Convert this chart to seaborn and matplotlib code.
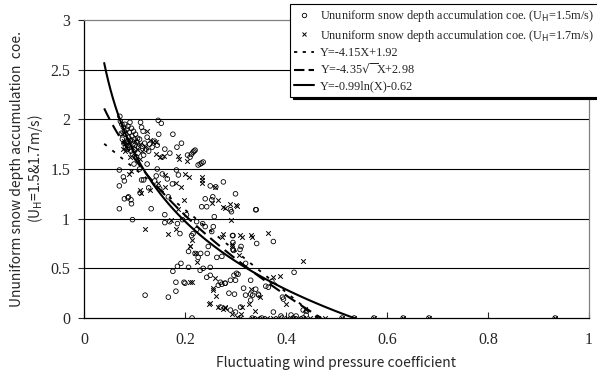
import numpy as np
import pandas as pd
import matplotlib
matplotlib.use("Agg")
import matplotlib.pyplot as plt
from matplotlib.lines import Line2D
import seaborn as sns

# ── data ─────────────────────────────────────────────────────────────────────
# Ununiform snow depth accumulation coe. at U_H = 1.5 m/s (open circles)
u15_x = [
    0.071, 0.072, 0.075, 0.078, 0.080, 0.083, 0.085, 0.088, 0.090, 0.092, 0.095, 0.097,
    0.100, 0.102, 0.105, 0.108, 0.110, 0.112, 0.114, 0.117, 0.120, 0.123, 0.125, 0.128,
    0.130, 0.076, 0.079, 0.082, 0.086, 0.089, 0.093, 0.096, 0.099, 0.104, 0.107, 0.074,
    0.081, 0.087, 0.091, 0.094, 0.098, 0.084, 0.088, 0.101, 0.106, 0.115, 0.118, 0.135,
    0.140, 0.145, 0.147, 0.153, 0.148, 0.176, 0.193, 0.184, 0.170, 0.160, 0.155,
    0.070, 0.078, 0.080, 0.070, 0.080, 0.088, 0.093, 0.094, 0.070, 0.096, 0.111, 0.133,
    0.118, 0.128, 0.143, 0.167, 0.183, 0.187, 0.160, 0.170, 0.114, 0.087, 0.099, 0.110,
    0.125, 0.145, 0.155, 0.140, 0.150, 0.175, 0.165,
    0.210, 0.216, 0.220, 0.233, 0.230, 0.250, 0.261, 0.276, 0.300, 0.255, 0.290, 0.340,
    0.226, 0.236, 0.205, 0.213, 0.218,
    0.176, 0.182, 0.182, 0.200, 0.207, 0.192, 0.185, 0.121, 0.167, 0.214, 0.198,
    0.258, 0.256, 0.240, 0.253, 0.246, 0.244, 0.263, 0.273, 0.294, 0.296, 0.311, 0.302,
    0.305, 0.273, 0.266, 0.279, 0.287, 0.298, 0.316, 0.330, 0.334, 0.345, 0.341, 0.375,
    0.365, 0.395, 0.416, 0.441, 0.434,
    0.203, 0.185, 0.195, 0.223, 0.235, 0.233, 0.243, 0.240, 0.253, 0.223, 0.213, 0.207,
    0.226, 0.231, 0.236, 0.250, 0.250, 0.243,
    0.292, 0.295, 0.295, 0.295, 0.342, 0.309, 0.320, 0.297, 0.300, 0.330, 0.340, 0.346,
    0.320, 0.330, 0.310, 0.216, 0.220, 0.230, 0.270, 0.280, 0.290, 0.372, 0.360, 0.393,
    0.190, 0.160, 0.270, 0.290, 0.300, 0.375, 0.390, 0.410, 0.420, 0.440,
    0.333, 0.352, 0.392, 0.414, 0.434, 0.463, 0.511, 0.535, 0.574, 0.632, 0.683, 0.933,
]
u15_y = [
    2.03, 1.98, 1.95, 1.92, 1.88, 1.85, 1.90, 1.82, 1.87, 1.78, 1.83, 1.75,
    1.80, 1.85, 1.77, 1.72, 1.80, 1.97, 1.92, 1.88, 1.76, 1.70, 1.82, 1.68,
    1.75, 1.80, 1.76, 1.72, 1.70, 1.74, 1.68, 1.65, 1.70, 1.62, 1.66, 1.86,
    1.95, 1.93, 1.97, 1.91, 1.88, 1.78, 1.77, 1.74, 1.81, 1.73, 1.64, 1.72,
    1.78, 1.74, 1.99, 1.96, 1.85, 1.85, 1.76, 1.72, 1.66, 1.70, 1.62,
    1.49, 1.42, 1.38, 1.33, 1.20, 1.22, 1.19, 1.15, 1.10, 0.99, 1.26, 1.10,
    1.39, 1.31, 1.43, 1.22, 1.49, 1.44, 1.04, 0.97, 1.39, 1.21, 1.55, 1.50,
    1.55, 1.50, 1.45, 1.38, 1.30, 1.35, 1.40,
    1.62, 1.67, 1.69, 1.56, 1.55, 1.33, 1.32, 1.37, 1.25, 1.22, 1.09, 1.09,
    1.54, 1.57, 1.64, 1.65, 1.68,
    0.47, 0.36, 0.27, 0.35, 0.51, 0.55, 0.52, 0.23, 0.21, 0.00, 0.36,
    1.02, 0.92, 0.92, 0.87, 0.72, 0.65, 0.61, 0.62, 0.83, 0.68, 0.72, 0.45,
    0.44, 0.34, 0.33, 0.35, 0.25, 0.24, 0.30, 0.24, 0.23, 0.24, 1.09, 0.77,
    0.31, 0.19, 0.46, 0.07, 0.08,
    1.04, 0.95, 0.99, 0.97, 0.95, 1.12, 1.12, 1.20, 1.19, 0.89, 0.83, 0.67,
    0.61, 0.65, 0.50, 0.51, 0.43, 0.41,
    1.07, 0.83, 0.76, 0.69, 0.75, 0.69, 0.55, 0.43, 0.38, 0.38, 0.29, 0.23,
    0.23, 0.18, 0.11, 0.85, 0.65, 0.48, 0.36, 0.35, 0.38, 0.37, 0.32, 0.21,
    0.85, 0.96, 0.11, 0.08, 0.06, 0.06, 0.02, 0.03, 0.02, 0.03,
    0.00, 0.00, 0.00, 0.00, 0.00, 0.00, 0.00, 0.00, 0.00, 0.00, 0.00, 0.00,
]

# Ununiform snow depth accumulation coe. at U_H = 1.7 m/s (crosses)
u17_x = [
    0.075, 0.080, 0.085, 0.090, 0.095, 0.100, 0.105, 0.110, 0.115, 0.120, 0.124, 0.130,
    0.137, 0.143, 0.143, 0.150, 0.159, 0.186, 0.189, 0.203, 0.099, 0.092, 0.082, 0.078,
    0.110,
    0.094, 0.090, 0.111, 0.113, 0.131, 0.121, 0.147, 0.160, 0.160, 0.183, 0.193, 0.207,
    0.200, 0.233, 0.233, 0.233, 0.260, 0.253, 0.265, 0.276, 0.290, 0.300, 0.279, 0.302,
    0.167, 0.173, 0.182, 0.187, 0.198, 0.209, 0.213, 0.220, 0.223, 0.213, 0.210, 0.210,
    0.291, 0.365, 0.331, 0.309, 0.307, 0.330, 0.294, 0.294, 0.312, 0.332, 0.276, 0.273,
    0.374, 0.388, 0.433, 0.400, 0.438, 0.349, 0.260, 0.256,
    0.248, 0.261, 0.255, 0.266, 0.275, 0.279, 0.294, 0.302, 0.312, 0.327, 0.339, 0.250,
    0.280, 0.310,
    0.309, 0.333, 0.343, 0.352, 0.362, 0.375, 0.385, 0.402, 0.414, 0.424, 0.434, 0.447,
    0.463, 0.477, 0.511, 0.535, 0.574, 0.632, 0.683, 0.933,
]
u17_y = [
    1.85, 1.78, 1.75, 1.80, 1.72, 1.78, 1.70, 1.75, 1.68, 1.72, 1.88, 1.79,
    1.77, 1.77, 1.65, 1.62, 1.63, 1.63, 1.60, 1.58, 1.66, 1.62, 1.68, 1.70,
    1.60,
    1.48, 1.45, 1.29, 1.26, 1.29, 0.90, 1.36, 1.44, 1.32, 1.36, 1.32, 1.42,
    1.45, 1.42, 1.39, 1.36, 1.32, 1.16, 1.19, 1.12, 1.15, 1.14, 1.11, 1.13,
    0.85, 0.99, 0.90, 1.10, 1.19, 0.72, 0.79, 0.65, 0.56, 0.36, 0.72, 0.36,
    0.99, 0.86, 0.84, 0.84, 0.63, 0.29, 0.75, 0.72, 0.82, 0.82, 0.85, 0.82,
    0.41, 0.42, 0.57, 0.14, 0.09, 0.21, 0.40, 0.30,
    0.14, 0.22, 0.28, 0.11, 0.09, 0.11, 0.04, 0.01, 0.11, 0.14, 0.07, 0.15,
    0.10, 0.04,
    0.00, 0.00, 0.00, 0.00, 0.00, 0.00, 0.00, 0.00, 0.00, 0.00, 0.00, 0.00,
    0.00, 0.00, 0.00, 0.00, 0.00, 0.00, 0.00, 0.00,
]

# fitted curves, coefficients as printed in the legend
lin_a, lin_b = -4.15, 1.92     # Y = a X + b
sqrt_a, sqrt_b = -4.35, 2.98   # Y = a sqrt(X) + b
log_a, log_b = -0.99, -0.62    # Y = a ln(X) + b

x_ticks = [0, 0.2, 0.4, 0.6, 0.8, 1]
x_tick_labels = ["0", "0.2", "0.4", "0.6", "0.8", "1"]
y_ticks = [0, 0.5, 1, 1.5, 2, 2.5, 3]
y_tick_labels = ["0", "0.5", "1", "1.5", "2", "2.5", "3"]

# ── style ────────────────────────────────────────────────────────────────────
sns.set_style("white")
plt.rcParams["font.family"] = ["Liberation Serif", "DejaVu Serif"]
SANS = ["Noto Sans CJK JP", "DejaVu Sans"]

fig = plt.figure(figsize=(5.97, 3.78), dpi=100)
ax = fig.add_axes([84 / 597, 1 - 318 / 378, 505 / 597, 298 / 378])

# horizontal gridlines
for yv in y_ticks[1:-1]:
    ax.axhline(yv, color="black", lw=0.8, zorder=0)

df15 = pd.DataFrame({"x": u15_x, "y": u15_y})
df17 = pd.DataFrame({"x": u17_x, "y": u17_y})
sns.scatterplot(data=df15, x="x", y="y", ax=ax, marker="o", s=11,
                facecolor="none", edgecolor="black", linewidth=0.6, zorder=3)
sns.scatterplot(data=df17, x="x", y="y", ax=ax, marker="x", s=11,
                color="black", linewidth=0.7, zorder=3)

x_lin = np.linspace(0.04, 0.463, 60)
x_sqrt = np.linspace(0.04, 0.47, 80)
x_log = np.linspace(0.04, 0.55, 120)
sns.lineplot(x=x_lin, y=lin_a * x_lin + lin_b, ax=ax, color="black", lw=1.3,
             linestyle=(0, (1.8, 4.0)), zorder=4)
sns.lineplot(x=x_sqrt, y=sqrt_a * np.sqrt(x_sqrt) + sqrt_b, ax=ax, color="black",
             lw=1.5, linestyle=(0, (6, 3)), zorder=4)
sns.lineplot(x=x_log, y=log_a * np.log(x_log) + log_b, ax=ax, color="black",
             lw=1.5, zorder=4)

ax.set_xlim(0, 1)
ax.set_ylim(0, 3)
ax.set_xticks(x_ticks)
ax.set_xticklabels(x_tick_labels, fontsize=11.5)
ax.set_yticks(y_ticks)
ax.set_yticklabels(y_tick_labels, fontsize=11.5)
ax.tick_params(axis="x", direction="in", length=4, width=0.8, pad=10)
ax.tick_params(axis="y", direction="out", length=4, width=0.8, pad=6)
ax.xaxis.set_tick_params(bottom=True)
ax.yaxis.set_tick_params(left=True)

for side in ["left", "bottom"]:
    ax.spines[side].set_color("black")
    ax.spines[side].set_linewidth(0.9)
for side in ["top", "right"]:
    ax.spines[side].set_color("#808080")
    ax.spines[side].set_linewidth(0.9)

ax.set_xlabel("Fluctuating wind pressure coefficient", family=SANS, fontsize=10,
              labelpad=6)
ax.set_ylabel("Ununiform snow depth accumulation  coe.\n(U$_\\mathrm{H}$=1.5&1.7m/s)",
              family=SANS, fontsize=10, labelpad=4, linespacing=1.1)

handles = [
    Line2D([], [], marker="o", ls="none", mfc="none", mec="black", ms=3.2, mew=0.6),
    Line2D([], [], marker="x", ls="none", color="black", ms=3.2, mew=0.7),
    Line2D([], [], color="black", lw=1.3, linestyle=(0, (1.8, 3.0))),
    Line2D([], [], color="black", lw=1.5, linestyle=(0, (5, 2))),
    Line2D([], [], color="black", lw=1.5),
]
labels = [
    "Ununiform snow depth accumulation coe. (U$_\\mathrm{H}$=1.5m/s)",
    "Ununiform snow depth accumulation coe. (U$_\\mathrm{H}$=1.7m/s)",
    "Y=-4.15X+1.92",
    "Y=-4.35$\\sqrt{\\ }$X+2.98",
    "Y=-0.99ln(X)-0.62",
]
leg = ax.legend(handles, labels, loc="upper left",
                bbox_to_anchor=(290 / 597, 1 - 4 / 378),
                bbox_transform=fig.transFigure, fontsize=8.8, frameon=True,
                fancybox=False, shadow={"color": "black", "alpha": 1, "ox": 2, "oy": -2},
                handlelength=1.6, handletextpad=0.5, borderpad=0.35,
                labelspacing=0.28, borderaxespad=0)
leg.get_frame().set_edgecolor("black")
leg.get_frame().set_linewidth(0.8)
leg.set_zorder(10)

fig.savefig("out.png", dpi=100)
